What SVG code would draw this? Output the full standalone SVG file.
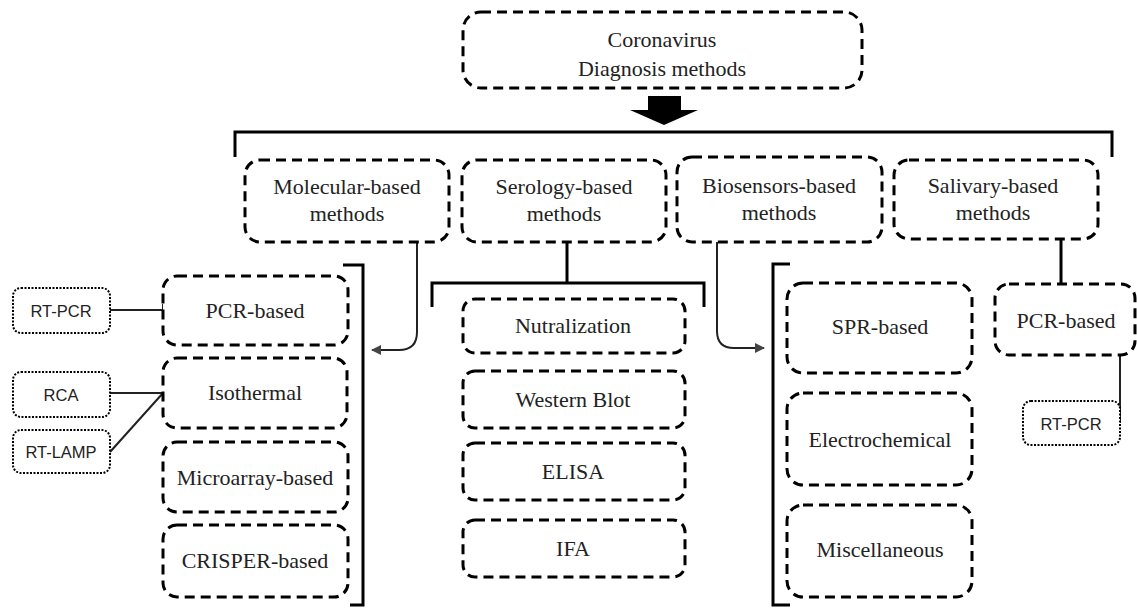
<svg xmlns="http://www.w3.org/2000/svg" width="1137" height="608" viewBox="0 0 1137 608">
<style>
.box{fill:#fff;stroke:#000;stroke-width:3;stroke-dasharray:10 6}
.dot{fill:#fff;stroke:#000;stroke-width:2;stroke-dasharray:2 1.5}
.t{font-family:"Liberation Serif","Times New Roman",serif;font-size:22px;fill:#222;text-anchor:middle}
.s{font-family:"Liberation Sans",Arial,sans-serif;font-size:16.5px;fill:#222;text-anchor:middle}
.ln{fill:none;stroke:#000;stroke-width:3}
.thin{fill:none;stroke:#222;stroke-width:2}
</style>
<defs>
<marker id="ah" viewBox="0 0 10 10" refX="9" refY="5" markerWidth="5" markerHeight="5" orient="auto">
<path d="M0,0 L10,5 L0,10 z" fill="#444"/>
</marker>
</defs>
<rect width="1137" height="608" fill="#fff"/>
<g id="connectors">
<path class="ln" d="M235,157 V132 H1112 V157"/>
<polygon points="648,96 681,96 681,110 698,110 664,125 630,110 648,110" fill="#000"/>
<path class="thin" d="M417,242 V332 Q417,350 399,350 H372" marker-end="url(#ah)"/>
<path class="thin" d="M717,242 V331 Q717,348 734,348 H764" marker-end="url(#ah)"/>
<path class="ln" d="M567,242 V283"/>
<path class="ln" d="M432,307 V283 H704 V307"/>
<path class="ln" d="M1061,239 V284"/>
<path class="ln" d="M343,265 H363 V605 H350"/>
<path class="ln" d="M790,264 H773 V605 H790"/>
<path class="thin" d="M110,310 H163 M163,304 V316"/>
<path class="thin" d="M110,393 H163 M110,452 L163,393"/>
<path class="thin" d="M1120,355 V423"/>
</g>
<g id="root">
<rect class="box" x="463" y="12" width="399" height="76" rx="18"/>
<text class="t" x="662" y="47">Coronavirus</text>
<text class="t" x="662" y="76">Diagnosis methods</text>
</g>
<g id="molecular">
<rect class="box" x="245" y="160" width="204" height="82" rx="15"/>
<text class="t" x="347" y="194">Molecular-based</text>
<text class="t" x="347" y="221">methods</text>
</g>
<g id="serology">
<rect class="box" x="462" y="160" width="204" height="82" rx="15"/>
<text class="t" x="564" y="194">Serology-based</text>
<text class="t" x="564" y="221">methods</text>
</g>
<g id="biosensors">
<rect class="box" x="677" y="157" width="205" height="85" rx="15"/>
<text class="t" x="779" y="193">Biosensors-based</text>
<text class="t" x="779" y="220">methods</text>
</g>
<g id="salivary">
<rect class="box" x="894" y="160" width="204" height="79" rx="15"/>
<text class="t" x="993" y="193">Salivary-based</text>
<text class="t" x="993" y="220">methods</text>
</g>
<g id="pcr-based">
<rect class="box" x="163" y="276" width="185" height="69" rx="14"/>
<text class="t" x="255" y="318">PCR-based</text>
</g>
<g id="isothermal">
<rect class="box" x="163" y="358" width="184" height="70" rx="14"/>
<text class="t" x="255" y="400">Isothermal</text>
</g>
<g id="microarray">
<rect class="box" x="163" y="442" width="185" height="70" rx="14"/>
<text class="t" x="255" y="485">Microarray-based</text>
</g>
<g id="crisper">
<rect class="box" x="163" y="525" width="185" height="72" rx="14"/>
<text class="t" x="255" y="568">CRISPER-based</text>
</g>
<g id="rt-pcr-left">
<rect class="dot" x="13" y="288" width="97" height="45" rx="8"/>
<text class="s" x="61" y="317">RT-PCR</text>
</g>
<g id="rca">
<rect class="dot" x="13" y="372" width="97" height="45" rx="8"/>
<text class="s" x="61" y="401">RCA</text>
</g>
<g id="rt-lamp">
<rect class="dot" x="13" y="430" width="97" height="43" rx="8"/>
<text class="s" x="61" y="458">RT-LAMP</text>
</g>
<g id="nutralization">
<rect class="box" x="463" y="299" width="222" height="54" rx="12"/>
<text class="t" x="573" y="333">Nutralization</text>
</g>
<g id="western-blot">
<rect class="box" x="463" y="371" width="222" height="57" rx="12"/>
<text class="t" x="573" y="407">Western Blot</text>
</g>
<g id="elisa">
<rect class="box" x="463" y="443" width="222" height="57" rx="12"/>
<text class="t" x="573" y="479">ELISA</text>
</g>
<g id="ifa">
<rect class="box" x="463" y="520" width="222" height="57" rx="12"/>
<text class="t" x="573" y="556">IFA</text>
</g>
<g id="spr">
<rect class="box" x="787" y="283" width="185" height="90" rx="16"/>
<text class="t" x="880" y="334">SPR-based</text>
</g>
<g id="electrochemical">
<rect class="box" x="787" y="393" width="185" height="92" rx="16"/>
<text class="t" x="880" y="447">Electrochemical</text>
</g>
<g id="miscellaneous">
<rect class="box" x="787" y="505" width="185" height="92" rx="16"/>
<text class="t" x="880" y="557">Miscellaneous</text>
</g>
<g id="pcr-salivary">
<rect class="box" x="995" y="284" width="140" height="71" rx="14"/>
<text class="t" x="1066" y="328">PCR-based</text>
</g>
<g id="rt-pcr-right">
<rect class="dot" x="1023" y="401" width="97" height="44" rx="8"/>
<text class="s" x="1071" y="430">RT-PCR</text>
</g>
</svg>
